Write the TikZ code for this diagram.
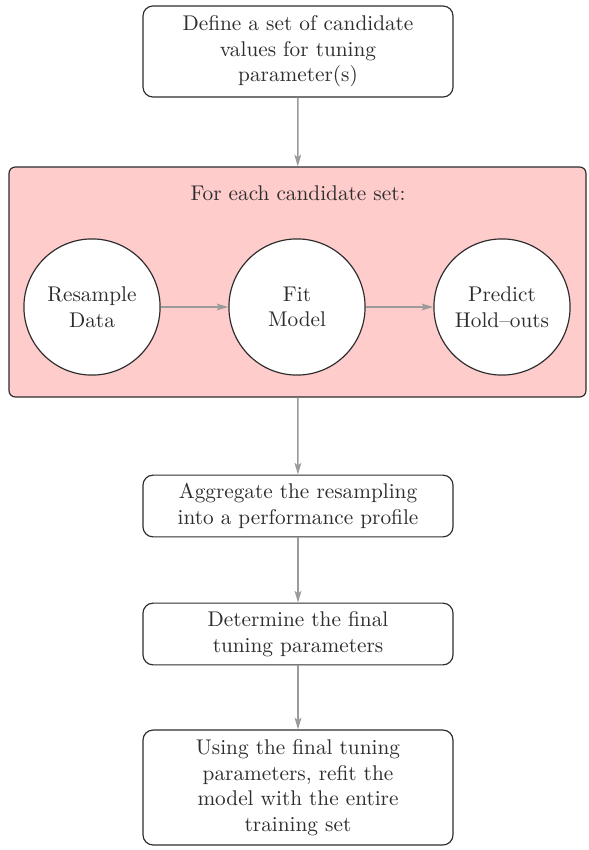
\documentclass[tikz,border=0pt]{standalone}
\usetikzlibrary{arrows.meta}
\definecolor{pinkfill}{RGB}{255,204,204}
\definecolor{ink}{RGB}{45,45,45}
\definecolor{arrowgray}{RGB}{155,155,155}
\tikzset{
  stepbox/.style={draw=ink, line width=0.55pt, rounded corners=4.7pt, fill=white,
    text=ink, align=center, minimum width=145.7pt, inner sep=2pt},
  circnode/.style={draw=ink, line width=0.55pt, circle, fill=white, text=ink,
    align=center, minimum size=64pt, inner sep=1pt},
  conn/.style={draw=arrowgray, line width=0.7pt, -{Stealth[length=5.5pt,width=3.2pt,inset=1.2pt]}},
}
\begin{document}
\begin{tikzpicture}[x=0.47pt,y=-0.47pt]
\useasboundingbox (0,0) rectangle (588,850);
\node[stepbox, minimum height=42.8pt] (define) at (298,51.5)
  {Define a set of candidate\\values for tuning\\parameter(s)};
\node[draw=ink, line width=0.55pt, fill=pinkfill, rounded corners=3pt,
  minimum width=271.2pt, minimum height=108.1pt, inner sep=0pt] (loop) at (297.5,282) {};
\node[text=ink, anchor=base] (title) at (298,200) {For each candidate set:};
\node[circnode] (res) at (92,307) {Resample\\Data};
\node[circnode] (fit) at (297,307) {Fit\\Model};
\node[circnode] (pred) at (502,307) {Predict\\Hold--outs};
\node[stepbox, minimum height=29pt] (agg) at (298,506)
  {Aggregate the resampling\\into a performance profile};
\node[stepbox, minimum height=29pt] (det) at (298,634)
  {Determine the final\\tuning parameters};
\node[stepbox, minimum height=54pt] (refit) at (298,787.5)
  {Using the final tuning\\parameters, refit the\\model with the entire\\training set};
\draw[conn] (define) -- (loop);
\draw[conn] (res) -- (fit);
\draw[conn] (fit) -- (pred);
\draw[conn] (loop) -- (agg);
\draw[conn] (agg) -- (det);
\draw[conn] (det) -- (refit);
\end{tikzpicture}
\end{document}
